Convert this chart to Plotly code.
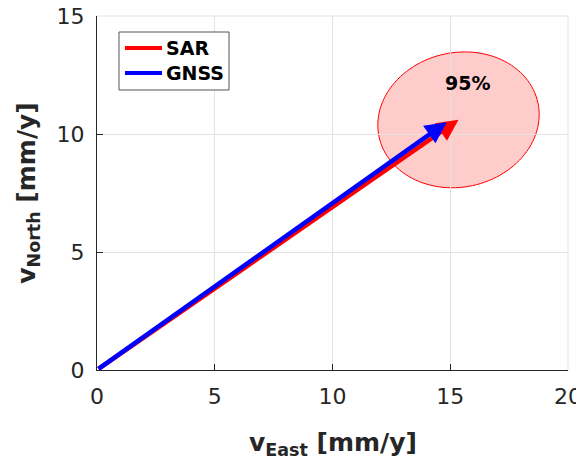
import numpy as np
import plotly.graph_objects as go

# Data
series_names = ["SAR", "GNSS"]
series_colors = ["red", "blue"]
v_east = [15.35, 14.85]
v_north = [10.6, 10.5]

ellipse_center = (15.35, 10.6)
ellipse_semi = (3.45, 2.85)
ellipse_angle_deg = 12
ellipse_label = "95%"
ellipse_label_pos = (15.75, 12.15)

x_ticks = [0, 5, 10, 15, 20]
y_ticks = [0, 5, 10, 15]

FONT = "DejaVu Sans"
TXT = "#262626"

fig = go.Figure()

# ellipse path
t = np.linspace(0, 2 * np.pi, 121)
a, b = ellipse_semi
th = np.deg2rad(ellipse_angle_deg)
ex = ellipse_center[0] + a * np.cos(t) * np.cos(th) - b * np.sin(t) * np.sin(th)
ey = ellipse_center[1] + a * np.cos(t) * np.sin(th) + b * np.sin(t) * np.cos(th)
path = "M " + " L ".join(f"{x:.4f},{y:.4f}" for x, y in zip(ex, ey)) + " Z"
fig.add_shape(type="path", path=path, xref="x", yref="y",
              fillcolor="rgba(255,0,0,0.2)", line=dict(color="red", width=1), layer="below")

# arrows
for ve, vn, col in zip(v_east, v_north, series_colors):
    fig.add_annotation(x=ve, y=vn, ax=0, ay=0, xref="x", yref="y", axref="x", ayref="y",
                       showarrow=True, arrowhead=2, arrowsize=0.95, arrowwidth=4.5,
                       arrowcolor=col, text="")

fig.add_annotation(x=ellipse_label_pos[0], y=ellipse_label_pos[1], text="<b>" + ellipse_label + "</b>",
                   showarrow=False, font=dict(family=FONT, size=19, color="black"))

# legend box (drawn in paper coordinates)
fig.add_shape(type="rect", xref="paper", yref="paper", x0=0.0467, x1=0.2803, y0=0.791, y1=0.9548,
              line=dict(color="#555555", width=1), fillcolor="white")
leg_y = [0.9096, 0.839]
for name, col, yy in zip(series_names, series_colors, leg_y):
    fig.add_shape(type="line", xref="paper", yref="paper", x0=0.0594, x1=0.138, y0=yy, y1=yy,
                  line=dict(color=col, width=4))
    fig.add_annotation(xref="paper", yref="paper", x=0.142, y=yy, xanchor="left", yanchor="middle",
                       text="<b>" + name + "</b>", showarrow=False,
                       font=dict(family=FONT, size=19, color="black"))

# axis titles
fig.add_annotation(xref="paper", yref="paper", x=0.5, y=-0.21, xanchor="center", yanchor="middle",
                   text="<b>v<sub>East</sub> [mm/y]</b>", showarrow=False,
                   font=dict(family=FONT, size=25, color=TXT))
fig.add_annotation(xref="paper", yref="paper", x=-0.147, y=0.5, xanchor="center", yanchor="middle",
                   text="<b>v<sub>North</sub> [mm/y]</b>", showarrow=False, textangle=-90,
                   font=dict(family=FONT, size=25, color=TXT))

# page body has an 8px margin, so figure is offset by 8px
fig.update_layout(
    width=576, height=453,
    margin=dict(l=89, r=16, t=8, b=91, autoexpand=False),
    plot_bgcolor="white", paper_bgcolor="white",
    font=dict(family=FONT, size=22, color=TXT),
    showlegend=False,
)
fig.update_xaxes(range=[0, 20], tickvals=x_ticks, showgrid=True, gridcolor="#e3e3e3",
                 zeroline=False, showline=True, linecolor=TXT, linewidth=1,
                 ticks="inside", ticklen=6, tickcolor=TXT, automargin=False,
                 ticklabelstandoff=7, ticklabeloverflow="allow")
fig.update_yaxes(range=[0, 15], tickvals=y_ticks, showgrid=True, gridcolor="#e3e3e3",
                 zeroline=False, showline=True, linecolor=TXT, linewidth=1,
                 ticks="inside", ticklen=6, tickcolor=TXT, automargin=False,
                 ticklabelstandoff=7, ticklabeloverflow="allow")
# light top/right box lines
fig.add_shape(type="line", xref="paper", yref="paper", x0=0, x1=1, y0=1, y1=1, line=dict(color="#e3e3e3", width=1))
fig.add_shape(type="line", xref="paper", yref="paper", x0=1, x1=1, y0=0, y1=1, line=dict(color="#e3e3e3", width=1))

fig.write_html("out.html")
